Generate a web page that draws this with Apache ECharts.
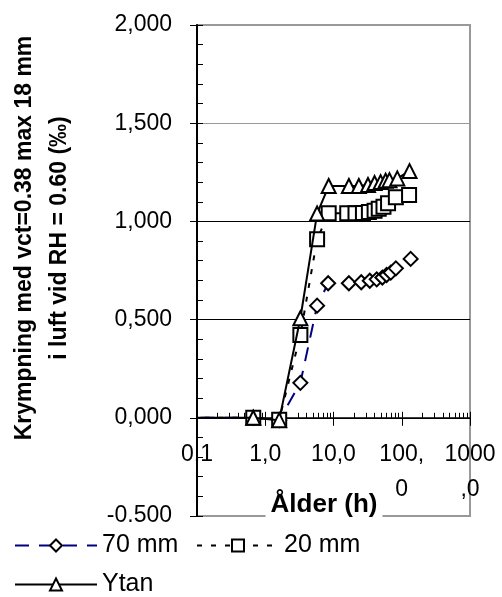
<!DOCTYPE html>
<html>
<head>
<meta charset="utf-8">
<script src="https://cdn.jsdelivr.net/npm/echarts@6/dist/echarts.min.js"></script>
<style>html,body{margin:0;padding:0;background:#fff;}#c{width:502px;height:597px;}</style>
</head>
<body>
<div id="c"></div>
<script>
const seriesNames = ['70 mm', '20 mm', 'Ytan'];
const times70 = [0.05, 0.667, 1.6, 3.27, 5.75, 8.35, 16.8, 25.5, 34, 43, 52, 60, 69, 82, 135];
const vals70 = [0, 0, -0.012, 0.178, 0.571, 0.685, 0.685, 0.69, 0.698, 0.705, 0.714, 0.727, 0.739, 0.761, 0.809];
const times20 = [0.05, 0.667, 1.6, 3.27, 5.75, 8.5, 15.9, 21, 27, 33, 40, 46, 54, 63, 82, 128];
const vals20 = [0, 0, -0.01, 0.422, 0.909, 1.041, 1.041, 1.041, 1.043, 1.048, 1.054, 1.065, 1.075, 1.092, 1.123, 1.134];
const timesYtan = [0.05, 0.667, 1.6, 3.27, 5.75, 8.5, 16.8, 23.5, 32, 40, 49, 58, 66, 86, 130];
const valsYtan = [0, 0, -0.012, 0.507, 1.04, 1.18, 1.18, 1.18, 1.185, 1.195, 1.2, 1.207, 1.21, 1.219, 1.256];
const xTickLabels = ['0,1', '1,0', '10,0', '100,\n0', '1000\n,0'];
const yTickLabels = ['-0.500', '0,000', '0,500', '1,000', '1,500', '2,000'];
const yTitle = 'Krympning med vct=0.38 max 18 mm\ni luft vid RH = 0.60 (‰)';
const xTitle = 'Ålder (h)';

const pair = (t, v) => t.map((x, i) => [x, v[i]]);
const font = 'Liberation Sans, Arial, sans-serif';
const diamond = 'path://M0,-1L1,0L0,1L-1,0Z';
const zeroOffset = -98.2;

const chart = echarts.init(document.getElementById('c'), null, {renderer: 'canvas'});
const common = {type: 'line', clip: true, showAllSymbol: true, xAxisIndex: 0, yAxisIndex: 0,
  itemStyle: {color: '#fff', borderColor: '#000', borderWidth: 2}};
const legendBase = {itemWidth: 82, itemHeight: 15, itemGap: 0, padding: 0,
  textStyle: {fontSize: 25, color: '#000', fontFamily: font, padding: [0, 0, 0, 0]}};
chart.setOption({
  animation: false,
  backgroundColor: '#fff',
  textStyle: {fontFamily: font},
  grid: {left: 197, right: 32, top: 25, bottom: 81, show: true, borderColor: '#999', borderWidth: 2,
    backgroundColor: 'transparent', outerBoundsMode: 'none', containLabel: false},
  xAxis: [{
    type: 'log', logBase: 10, min: 0.1, max: 1000, position: 'bottom', offset: zeroOffset,
    axisLine: {onZero: false, lineStyle: {color: '#000', width: 1.5}},
    axisTick: {inside: true, length: 6, lineStyle: {color: '#000'}},
    minorTick: {show: true, splitNumber: 9, length: 5, lineStyle: {color: '#000'}},
    splitLine: {show: false},
    axisLabel: {margin: 19, fontSize: 23, color: '#000', lineHeight: 35, fontFamily: font,
      formatter: (v) => xTickLabels[Math.round(Math.log10(v)) + 1]}
  }, {
    type: 'log', logBase: 10, min: 0.1, max: 1000, position: 'bottom', offset: zeroOffset,
    axisLine: {show: false, onZero: false}, splitLine: {show: false}, axisLabel: {show: false},
    axisTick: {show: true, inside: false, length: 8, lineStyle: {color: '#000'}}
  }],
  yAxis: [{
    type: 'value', min: -0.5, max: 2, interval: 0.5,
    axisLine: {show: true, onZero: false, lineStyle: {color: '#000', width: 2}},
    axisTick: {show: true, inside: false, length: 7, lineStyle: {color: '#000'}},
    splitLine: {show: true, lineStyle: {color: ['#999', '#000', '#000', '#000', '#999', '#999'], width: 1}},
    axisLabel: {margin: 25, fontSize: 23, color: '#000', fontFamily: font,
      formatter: (v) => yTickLabels[Math.round((v + 0.5) / 0.5)]}
  }, {
    type: 'value', min: -0.5, max: 2, interval: 0.1, position: 'left',
    axisLine: {show: false}, splitLine: {show: false}, axisLabel: {show: false},
    axisTick: {show: true, inside: true, length: 6, lineStyle: {color: '#000'}}
  }],
  legend: [
    Object.assign({}, legendBase, {data: [seriesNames[0]], left: 14, top: 533}),
    Object.assign({}, legendBase, {data: [seriesNames[1]], left: 196, top: 533}),
    Object.assign({}, legendBase, {data: [seriesNames[2]], left: 14, top: 572})
  ],
  graphic: [
    {type: 'text', x: 42, y: 238, rotation: Math.PI / 2, z: 10,
      style: {text: yTitle, font: 'bold 23px ' + font, fill: '#000', align: 'center', verticalAlign: 'middle', lineHeight: 35}},
    {type: 'text', x: 324, y: 505, z: 10,
      style: {text: xTitle, font: 'bold 26px ' + font, fill: '#000', align: 'center', verticalAlign: 'middle',
        backgroundColor: '#fff', padding: [1, 5, 3, 5]}}
  ],
  series: [
    Object.assign({}, common, {name: seriesNames[0], data: pair(times70, vals70), symbol: diamond, symbolSize: 14,
      lineStyle: {color: '#000080', width: 2, type: [14, 10]}, color: '#000080', z: 2}),
    Object.assign({}, common, {name: seriesNames[1], data: pair(times20, vals20), symbol: 'rect', symbolSize: 14,
      lineStyle: {color: '#000', width: 2, type: [5, 9]}, color: '#000', z: 3}),
    Object.assign({}, common, {name: seriesNames[2], data: pair(timesYtan, valsYtan), symbol: 'triangle', symbolSize: 14,
      lineStyle: {color: '#000', width: 2, type: 'solid'}, color: '#000', z: 4})
  ]
});
</script>
</body>
</html>
